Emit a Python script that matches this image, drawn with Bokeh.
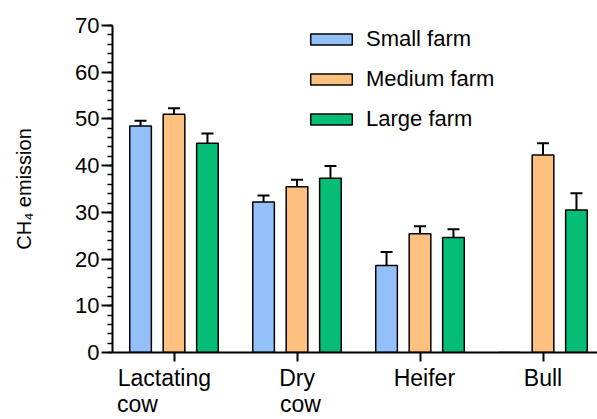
from bokeh.plotting import figure
from bokeh.models import (Range1d, FixedTicker, Whisker, TeeHead, ColumnDataSource,
                          Legend, LegendItem, LinearAxis)
from bokeh.embed import file_html
from bokeh.resources import INLINE

# ---- data ----
categories = ["Lactating cow", "Dry cow", "Heifer", "Bull"]
series = ["Small farm", "Medium farm", "Large farm"]
small_mean = [48.5, 32.2, 18.6, 0.0]
small_err = [1.1, 1.4, 2.9, 0.0]
medium_mean = [51.0, 35.5, 25.4, 42.3]
medium_err = [1.3, 1.5, 1.6, 2.5]
large_mean = [44.8, 37.3, 24.6, 30.5]
large_err = [2.1, 2.6, 1.8, 3.6]
y_ticks = [0, 10, 20, 30, 40, 50, 60, 70]
y_label = "CH\u2084 emission"

# ---- styles ----
FONT = "Liberation Sans"
colors = ["#93C0F8", "#FEC07E", "#05BD76"]
offsets = [-0.272, 0.0, 0.272]
bar_w = 0.176
FRAME_W = 485
X_START, X_END = -0.5, -0.5 + FRAME_W / 123.0
PX = FRAME_W / (X_END - X_START)   # pixels per category unit

p = figure(width=597, height=419,
           x_range=Range1d(X_START, X_END), y_range=Range1d(0, 70),
           output_backend="svg", toolbar_location=None,
           min_border_left=112, min_border_right=0,
           min_border_top=25, min_border_bottom=67)
p.xgrid.visible = False
p.ygrid.visible = False
p.outline_line_color = None

renderers = []
for k, (means, errs) in enumerate([(small_mean, small_err),
                                   (medium_mean, medium_err),
                                   (large_mean, large_err)]):
    xs = [i + offsets[k] for i in range(len(categories))]
    src = ColumnDataSource(dict(x=xs, top=means))
    r = p.vbar(x="x", top="top", bottom=0, width=bar_w, source=src,
               fill_color=colors[k], line_color="black", line_width=1.5)
    renderers.append(r)
    wb = [x for x, e in zip(xs, errs) if e > 0]
    wl = [m for m, e in zip(means, errs) if e > 0]
    wu = [m + e for m, e in zip(means, errs) if e > 0]
    wsrc = ColumnDataSource(dict(base=wb, lower=wl, upper=wu))
    w = Whisker(base="base", lower="lower", upper="upper", source=wsrc,
                lower_head=None,
                upper_head=TeeHead(size=12, line_width=2, line_color="black"),
                line_width=2, line_color="black")
    p.add_layout(w)

# y axis
yax = p.yaxis[0]
yax.ticker = FixedTicker(ticks=y_ticks, minor_ticks=list(range(0, 71, 2)))
yax.axis_line_width = 2
yax.major_tick_line_width = 2
yax.minor_tick_line_width = 1.5
yax.major_tick_in = 0
yax.major_tick_out = 11
yax.minor_tick_in = 0
yax.minor_tick_out = 5
yax.major_label_standoff = 2
yax.major_label_text_font = FONT
yax.major_label_text_font_size = "22px"
yax.major_label_text_color = "black"
yax.axis_label = y_label
yax.axis_label_text_font = FONT
yax.axis_label_text_font_size = "20px"
yax.axis_label_text_font_style = "normal"
yax.axis_label_text_color = "black"
yax.axis_label_standoff = 37

# x axis: line and ticks at the category centres
xax = p.xaxis[0]
xax.ticker = FixedTicker(ticks=list(range(len(categories))), minor_ticks=[])
xax.major_label_overrides = {i: "" for i in range(len(categories))}
xax.major_label_text_font_size = "0px"
xax.major_label_standoff = 0
xax.axis_line_width = 2
xax.major_tick_line_width = 2
xax.major_tick_in = 0
xax.major_tick_out = 9
xax.minor_tick_out = 0
xax.minor_tick_in = 0

# category names, two lines as in the original (label axes without line/ticks)
line1 = [c.split(" ")[0] for c in categories]
line2 = [" ".join(c.split(" ")[1:]) for c in categories]
dx1 = [-9.6, 0.1, 4.4, 0.0]      # px shift of each label centre from its tick
dx2 = [-36.6, 3.5, 0.0, 0.0]


def label_axis(texts, dx, standoff):
    pos = [i + d / PX for i, (t, d) in enumerate(zip(texts, dx)) if t]
    txt = [t for t in texts if t]
    ax = LinearAxis(ticker=FixedTicker(ticks=pos, minor_ticks=[]),
                    major_label_overrides={v: t for v, t in zip(pos, txt)},
                    axis_line_color=None, major_tick_line_color=None,
                    minor_tick_line_color=None, major_tick_out=0, major_tick_in=0,
                    major_label_standoff=standoff,
                    major_label_text_font=FONT, major_label_text_font_size="23px",
                    major_label_text_color="black")
    p.add_layout(ax, "below")


label_axis(line1, dx1, 3)
label_axis(line2, dx2, -3)

legend = Legend(items=[LegendItem(label=s, renderers=[r]) for s, r in zip(series, renderers)],
                location=(193, 220), orientation="vertical",
                glyph_width=52, glyph_height=14,
                label_text_font=FONT, label_text_font_size="22px",
                label_text_color="black",
                label_standoff=9, spacing=14, padding=0, margin=0,
                border_line_color=None, background_fill_alpha=0)
p.add_layout(legend)

open("out.html", "w").write(file_html(p, INLINE))
